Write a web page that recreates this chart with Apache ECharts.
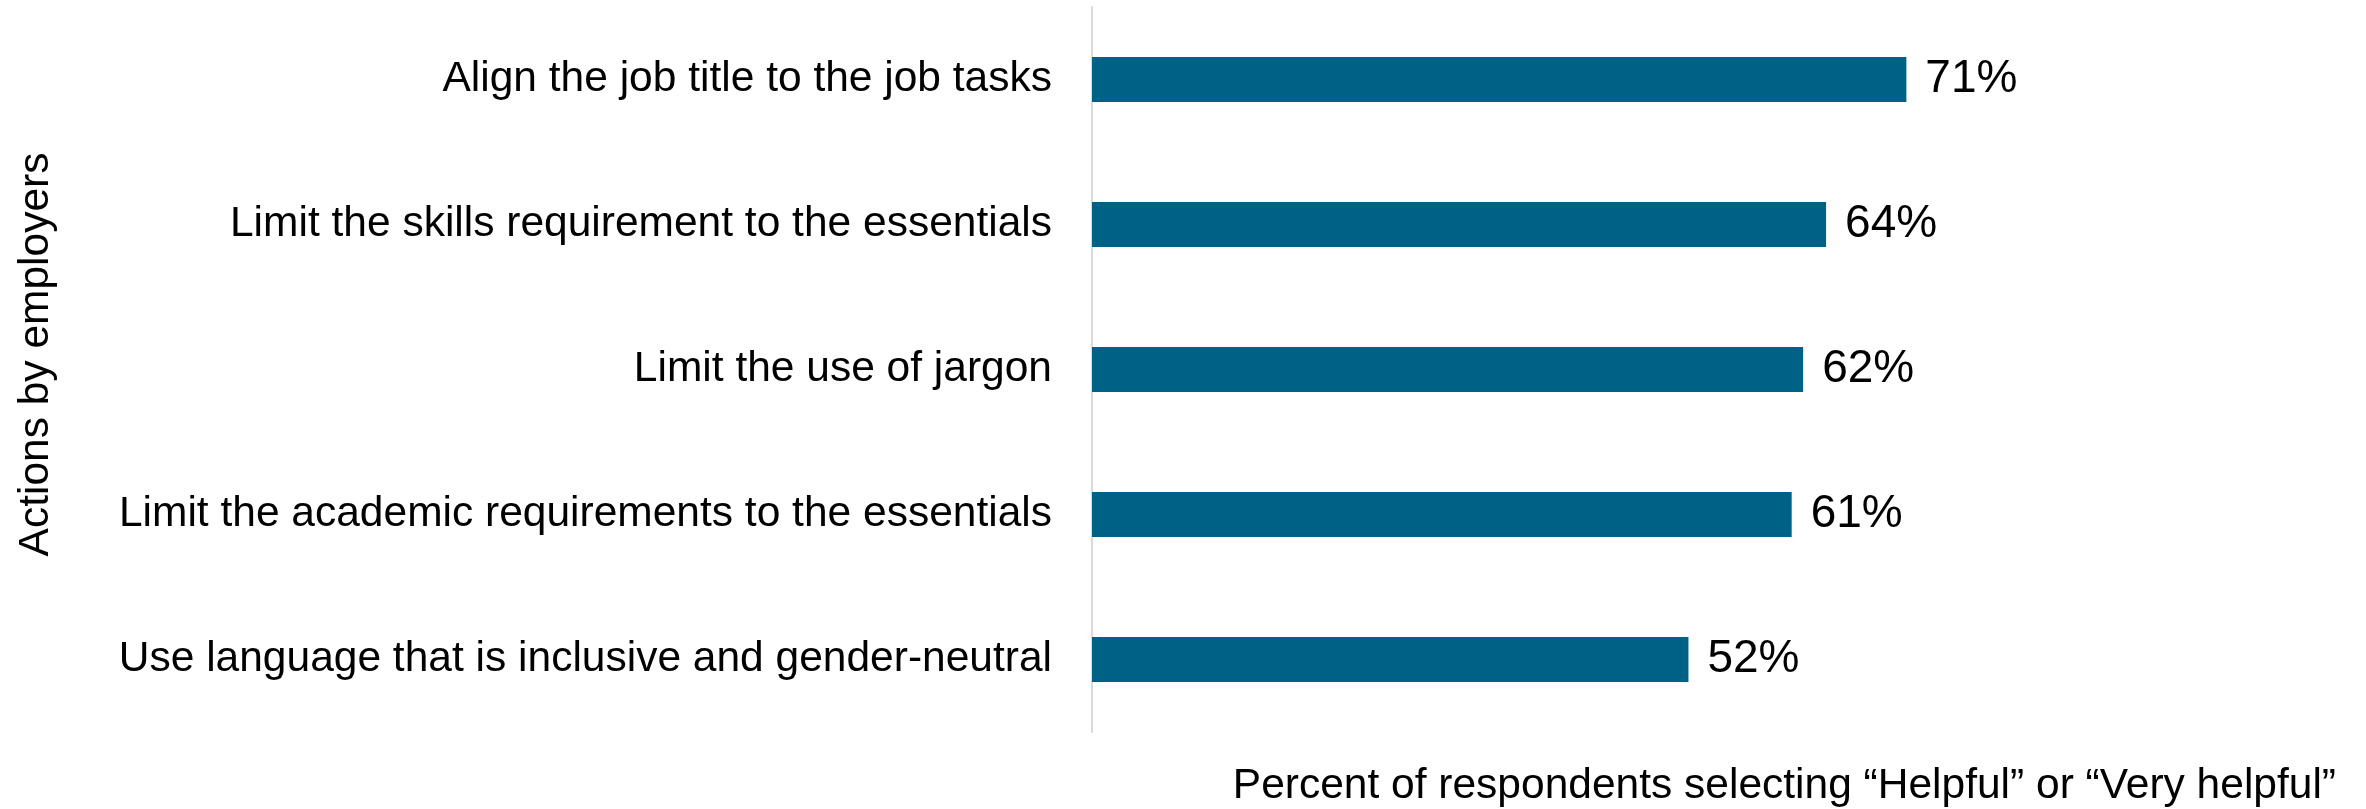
<!DOCTYPE html>
<html>
<head>
<meta charset="utf-8">
<script src="https://cdn.jsdelivr.net/npm/echarts@6/dist/echarts.min.js"></script>
<style>
  html, body { margin: 0; padding: 0; background: #ffffff; }
  #chart { width: 2366px; height: 809px; }
</style>
</head>
<body>
<div id="chart"></div>
<script>
// Employer actions, listed top to bottom
const actions = [
  'Align the job title to the job tasks',
  'Limit the skills requirement to the essentials',
  'Limit the use of jargon',
  'Limit the academic requirements to the essentials',
  'Use language that is inclusive and gender-neutral'
];
// Share of respondents (%) rating each action helpful or very helpful
const helpfulShare = [71, 64, 62, 61, 52];

const yAxisTitle = 'Actions by employers';
const xAxisTitle = 'Percent of respondents selecting \u201cHelpful\u201d or \u201cVery helpful\u201d';

const FONT = '"Liberation Sans", Arial, Helvetica, sans-serif';
const TEXT_SIZE = 42.5;

const chart = echarts.init(document.getElementById('chart'));
chart.setOption({
  animation: false,
  backgroundColor: '#ffffff',
  grid: {
    left: 1092, right: 127, top: 7, height: 725,
    containLabel: false,
    outerBoundsMode: 'none'
  },
  xAxis: {
    type: 'value',
    min: 0,
    max: 100,
    axisLine: { show: false },
    axisTick: { show: false },
    axisLabel: { show: false },
    splitLine: { show: false },
    name: xAxisTitle,
    nameLocation: 'end',
    nameGap: 97,
    nameTextStyle: {
      fontFamily: FONT,
      fontSize: TEXT_SIZE,
      color: '#000000',
      align: 'right',
      verticalAlign: 'top',
      padding: [33, 0, 0, 0]
    }
  },
  yAxis: {
    type: 'category',
    data: actions,
    inverse: true,
    axisLine: { show: true, lineStyle: { color: '#d9d9d9', width: 2 } },
    axisTick: { show: false },
    axisLabel: {
      fontFamily: FONT,
      fontSize: TEXT_SIZE,
      color: '#000000',
      margin: 40
    },
    name: yAxisTitle,
    nameLocation: 'middle',
    nameGap: 1034,
    nameRotate: 90,
    nameTextStyle: {
      fontFamily: FONT,
      fontSize: TEXT_SIZE,
      color: '#000000',
      padding: [0, 0, 0, 30]
    }
  },
  series: [{
    type: 'bar',
    data: helpfulShare,
    barWidth: 45,
    itemStyle: { color: '#006186' },
    label: {
      show: true,
      position: 'right',
      distance: 19,
      formatter: '{c}%',
      fontFamily: FONT,
      fontSize: 46,
      color: '#000000'
    }
  }]
});
</script>
</body>
</html>
